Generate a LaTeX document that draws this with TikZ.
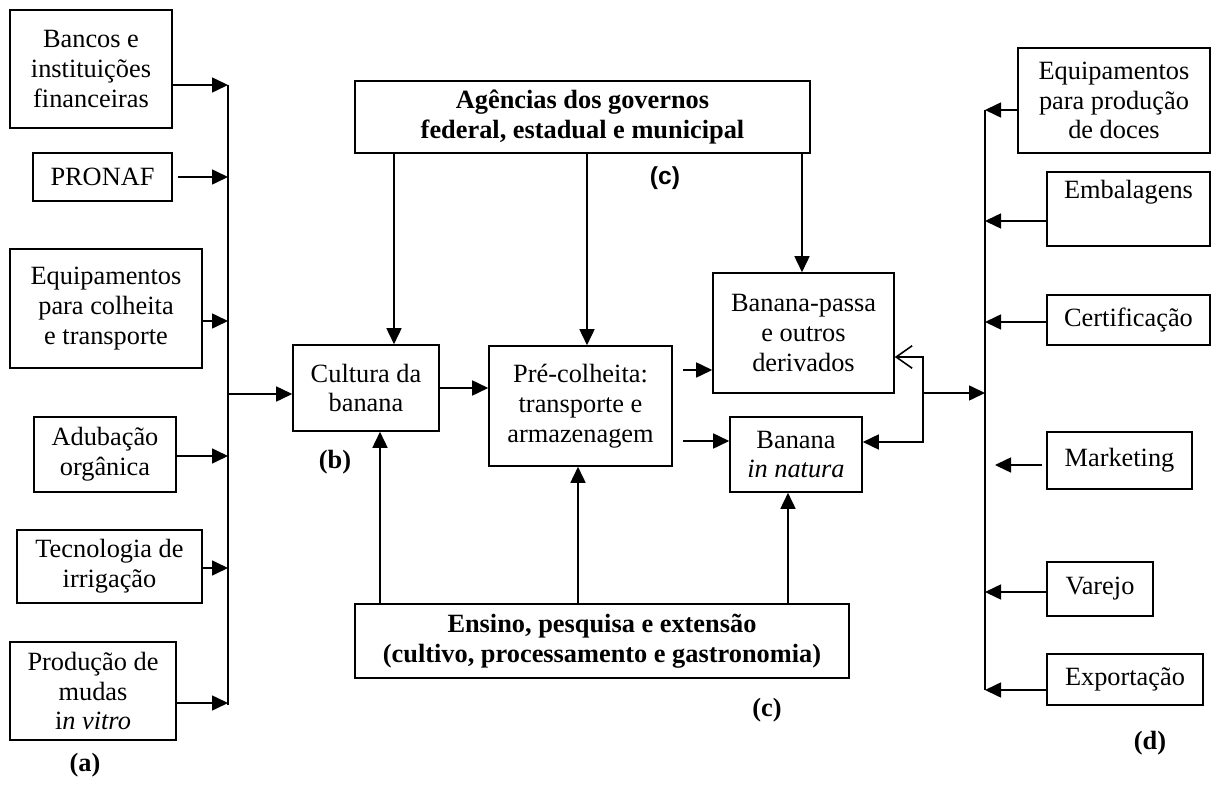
\documentclass[tikz,border=0pt]{standalone}
\usepackage{fontspec}
\setmainfont{Liberation Serif}
\newfontfamily\sanslbl{Liberation Sans}
\usetikzlibrary{arrows.meta}

\begin{document}
\begin{tikzpicture}[
		x=0.02cm, y=-0.02cm,
		line width=0.9pt,
		font=\fontsize{15}{17}\selectfont,
		box/.style={draw, align=center, inner sep=1pt},
		arr/.style={-{Triangle[length=0.32cm,width=0.3cm]}},
		openarr/.style={-{Straight Barb[length=0.32cm,width=0.45cm]}},
		lbl/.style={font=\fontsize{15}{17}\selectfont\bfseries}
	]
	\useasboundingbox (0,0) rectangle (1214,787);

	% inputs (a)
	\node[box, minimum width=3.24cm, minimum height=2.36cm] (bancos) at (91,69) {Bancos e\\instituições\\financeiras};
	\node[box, minimum width=2.78cm, minimum height=0.96cm] (pronaf) at (102.5,177) {PRONAF};
	\node[box, minimum width=3.84cm, minimum height=2.38cm] (colheita) at (106,308.5) {Equipamentos\\para colheita\\e transporte};
	\node[box, minimum width=2.84cm, minimum height=1.5cm] (adubo) at (105,454.5) {Adubação\\orgânica};
	\node[box, minimum width=3.7cm, minimum height=1.46cm] (irriga) at (109.5,566.5) {Tecnologia de\\irrigação};
	\node[box, minimum width=3.32cm, minimum height=1.96cm] (mudas) at (93,691) {Produção de\\mudas\\i\textit{n vitro}};
	\node[lbl] (la) at (85,765) {(a)};

	\coordinate (lbusTop) at (228,85);
	\coordinate (lbusBot) at (228,705);
	\draw (lbusTop) -- (lbusBot);
	\draw[arr] (bancos.east |- lbusTop) -- (lbusTop);
	\draw[arr] ([xshift=0.1cm]pronaf.east) -- (pronaf.east -| lbusTop);
	\draw[arr] (colheita.east |- 0,321) -- (lbusTop |- 0,321);
	\draw[arr] (adubo.east |- 0,456) -- (lbusTop |- 0,456);
	\draw[arr] (irriga.east |- 0,568) -- (lbusTop |- 0,568);
	\draw[arr] (mudas.east |- 0,703) -- (lbusTop |- 0,703);

	% central chain (b), (c)
	\node[box, minimum width=2.92cm, minimum height=1.72cm] (cultura) at (366,388) {Cultura da\\banana};
	\node[box, minimum width=3.66cm, minimum height=2.4cm] (pre) at (580.5,406) {Pré-colheita:\\transporte e\\armazenagem};
	\node[box, minimum width=3.62cm, minimum height=2.4cm] (passa) at (803.5,333) {Banana-passa\\e outros\\derivados};
	\node[box, minimum width=2.64cm, minimum height=1.5cm] (natura) at (796,454.5) {Banana\\\textit{in natura}};
	\node[box, font=\fontsize{15}{17}\selectfont\bfseries, minimum width=9.1cm, minimum height=1.44cm] (agencias) at (582.5,117) {Agências dos governos\\federal, estadual e municipal};
	\node[box, font=\fontsize{15}{17}\selectfont\bfseries, minimum width=9.88cm, minimum height=1.48cm] (ensino) at (602,641) {Ensino, pesquisa e extensão\\(cultivo, processamento e gastronomia)};
	\node[lbl] (lb) at (335,462) {(b)};
	\node[font=\fontsize{14}{16}\sanslbl\bfseries] (lc) at (665,178) {(c)};
	\node[lbl] (lc2) at (767,710) {(c)};

	\draw[arr] (lbusTop |- 0,394) -- (cultura.west |- 0,394);
	\draw[arr] (cultura.east) -- (cultura.east -| pre.west);
	\draw[arr] (394,0 |- agencias.south) -- (394,0 |- cultura.north);
	\draw[arr] (587,0 |- agencias.south) -- (587,0 |- pre.north);
	\draw[arr] (802,0 |- agencias.south) -- (802,0 |- passa.north);
	\draw[arr] (380,0 |- ensino.north) -- (380,0 |- cultura.south);
	\draw[arr] (578,0 |- ensino.north) -- (578,0 |- pre.south);
	\draw[arr] (788,0 |- ensino.north) -- (788,0 |- natura.south);
	\draw[arr] ([xshift=0.2cm]pre.east |- 0,370) -- (passa.west |- 0,370);
	\draw[arr] ([xshift=0.2cm]pre.east |- 0,441) -- (natura.west |- 0,441);

	% return loop
	\coordinate (loop) at (923,393);
	\draw[openarr] (loop) |- (passa.east |- 0,357);
	\draw[arr] (loop) |- (natura.east |- 0,442);

	% outputs (d)
	\node[box, minimum width=3.84cm, minimum height=2.1cm] (doces) at (1114,100.5) {Equipamentos\\para produção\\de doces};
	\node[box, minimum width=3.26cm, minimum height=1.48cm] (embal) at (1128.5,209) {Embalagens\\\strut};
	\node[box, minimum width=3.26cm, minimum height=1.0cm] (certif) at (1128.5,320) {Certificação};
	\node[box, minimum width=2.9cm, minimum height=1.14cm] (market) at (1119.5,460.5) {Marketing};
	\node[box, minimum width=2.12cm, minimum height=1.08cm] (varejo) at (1100,589) {Varejo};
	\node[box, minimum width=3.12cm, minimum height=1.02cm] (export) at (1125,679.5) {Exportação};
	\node[lbl] (ld) at (1150,743) {(d)};

	\coordinate (rbusTop) at (985,110);
	\coordinate (rbusBot) at (985,690);
	\draw (rbusTop) -- (rbusBot);
	\draw[arr] (loop) -- (rbusTop |- loop);
	\draw[arr] (doces.west |- rbusTop) -- (rbusTop);
	\draw[arr] (embal.west |- 0,221) -- (rbusTop |- 0,221);
	\draw[arr] (certif.west |- 0,322) -- (rbusTop |- 0,322);
	\draw[arr] ([xshift=-0.08cm]market.west |- 0,465) -- (995,0 |- 0,465);
	\draw[arr] (varejo.west |- 0,592) -- (rbusTop |- 0,592);
	\draw[arr] (export.west |- 0,690) -- (rbusBot);
\end{tikzpicture}
\end{document}
